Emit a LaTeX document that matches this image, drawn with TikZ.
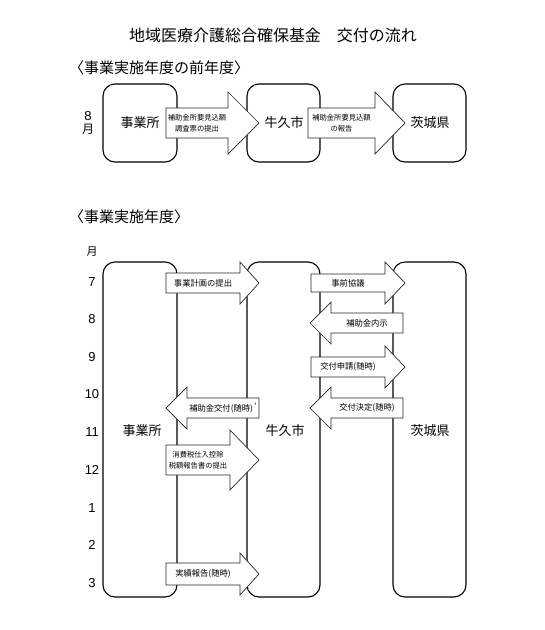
\documentclass[tikz,border=0pt]{standalone}
\usepackage{fontspec}
\setmainfont{Noto Sans CJK JP}
\newfontfamily\numfont{Liberation Sans}
\begin{document}
\begin{tikzpicture}[x=1pt,y=-1pt,
  boxst/.style={draw=black,line width=1.1pt,rounded corners=12pt},
  arrowst/.style={draw=black!85,line width=0.7pt,fill=white,line join=miter},
  atext/.style={font=\fontsize{8.3}{10}\selectfont,align=center,inner sep=0pt},
  atwo/.style={font=\fontsize{7.3}{11}\selectfont},
  blabel/.style={font=\fontsize{13}{15}\selectfont,inner sep=0pt},
  month/.style={font=\numfont\fontsize{13}{14}\selectfont,inner sep=0pt},
  head/.style={font=\fontsize{15}{17}\selectfont,inner sep=0pt,anchor=west}]
\useasboundingbox (0,0) rectangle (545,630);
\newcommand{\barrow}[9]{%
  \draw[arrowst] (#2,#5-#6) -- (#3,#5-#6) -- (#3,#5-#7) -- (#4,#5) -- (#3,#5+#7) -- (#3,#5+#6) -- (#2,#5+#6) -- cycle;
  \node[atext,#9] (#1) at ({(#2+#3)/2},#5) {#8};}
% title
\node[font=\fontsize{16}{18}\selectfont,inner sep=0pt] (title) at (273,35) {地域医療介護総合確保基金　交付の流れ};
% top section
\node[head] (h1) at (69,68) {〈事業実施年度の前年度〉};
\node[month,align=center] (m8) at (88,123) {8\\[-1pt]{\fontsize{12}{14}\rmfamily 月}};
\draw[boxst] (103,84) rectangle (177,162);
\draw[boxst] (247,84) rectangle (320,162);
\draw[boxst] (393,84) rectangle (466,162);
\node[blabel] (j1) at (140,123) {事業所};
\node[blabel] (u1) at (284,123) {牛久市};
\node[blabel] (i1) at (430,123) {茨城県};
\barrow{r1}{166}{228}{259}{123}{15}{31}{補助金所要見込額\\調査票の提出}{atwo}
\barrow{r2}{308}{375}{405}{123}{15}{31}{補助金所要見込額\\の報告}{atwo}
% lower section
\node[head] (h2) at (69,217) {〈事業実施年度〉};
\node[font=\fontsize{11}{13}\selectfont,inner sep=0pt] (mon) at (92,252) {月};
\foreach \m/\y in {7/282,8/319,9/357,10/394,11/432,12/470,1/508,2/545,3/583}
  \node[month] (m\m) at (92,\y) {\m};
\draw[boxst] (103,262) rectangle (177,597);
\draw[boxst] (247,262) rectangle (320,597);
\draw[boxst] (393,262) rectangle (466,597);
\node[blabel] (j2) at (142,431) {事業所};
\node[blabel] (u2) at (285,431) {牛久市};
\node[blabel] (i2) at (430,431) {茨城県};
\barrow{a1}{166}{240}{259}{283}{10}{21}{事業計画の提出}{}
\barrow{a2}{311}{385}{405}{283}{9}{21}{事前協議}{}
\barrow{a3}{403}{331}{310}{323}{10}{21}{補助金内示}{}
\barrow{a4}{311}{385}{405}{367}{10}{21}{交付申請(随時)}{}
\barrow{a5}{259}{187}{166}{408}{10}{21}{補助金交付(随時)\,\raisebox{2pt}{'}}{}
\barrow{a6}{403}{331}{310}{408}{10}{21}{交付決定(随時)}{}
\barrow{a7}{166}{230}{259}{460}{15}{30}{消費税仕入控除\\税額報告書の提出}{atwo}
\barrow{a8}{166}{240}{259}{574}{11}{21}{実績報告(随時)}{}
\end{tikzpicture}
\end{document}
